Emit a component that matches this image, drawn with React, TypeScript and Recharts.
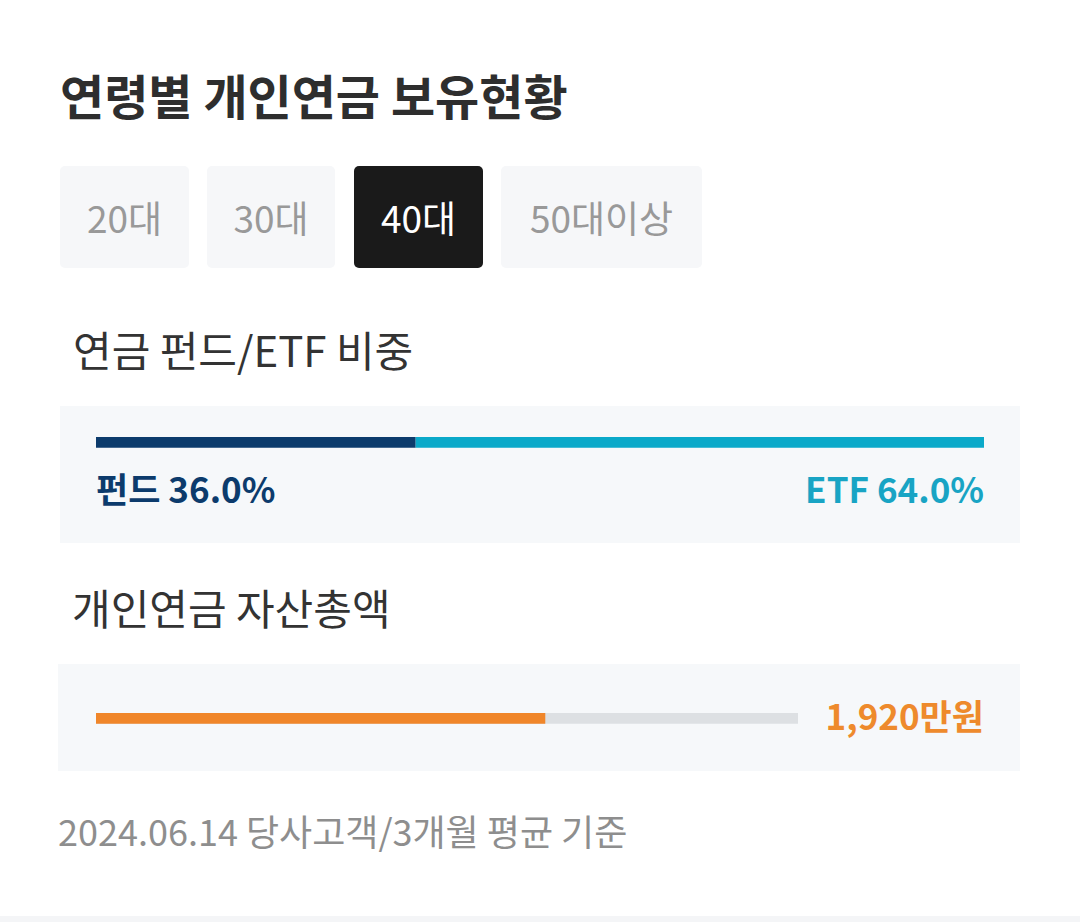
import { Bar, BarChart, XAxis, YAxis } from 'recharts';

const ageTabs = ['20대', '30대', '40대', '50대이상'];
const activeAge = '40대';

const mixNames = ['펀드', 'ETF'];
const mixShares = [36.0, 64.0];

const assetTotal = 1920; // 만원
const assetScaleMax = 3000;

const FONT = '"Noto Sans CJK KR", "Noto Sans", sans-serif';
const FUND_COLOR = '#0c3b6c';
const ETF_COLOR = '#0aa9c9';
const ASSET_COLOR = '#f0862a';

const tabBoxes = [
  { left: 60, width: 129 },
  { left: 207, width: 128 },
  { left: 354, width: 129 },
  { left: 501, width: 201 },
];

const abs = (left: number, top: number, extra: React.CSSProperties = {}): React.CSSProperties => ({
  position: 'absolute',
  left,
  top,
  ...extra,
});

export default function App() {
  const mixData = [{ age: activeAge, fund: mixShares[0], etf: mixShares[1] }];
  const assetData = [{ age: activeAge, asset: assetTotal }];

  return (
    <div
      style={{
        position: 'absolute',
        left: 0,
        top: 0,
        width: 1080,
        height: 922,
        background: '#ffffff',
        fontFamily: FONT,
        overflow: 'hidden',
      }}
    >
      <div style={abs(60, 70, { fontSize: 48, fontWeight: 700, color: '#2e2e2e', lineHeight: 1, whiteSpace: 'nowrap' })}>
        연령별 개인연금 보유현황
      </div>

      {ageTabs.map((tab, i) => {
        const active = tab === activeAge;
        return (
          <div
            key={tab}
            style={abs(tabBoxes[i].left, 166, {
              width: tabBoxes[i].width,
              height: 102,
              borderRadius: 5,
              background: active ? '#1a1a1a' : '#f6f7f9',
              color: active ? '#ffffff' : '#999999',
              display: 'flex',
              alignItems: 'center',
              justifyContent: 'center',
              fontSize: 37,
              lineHeight: 1,
            })}
          >
            {tab}
          </div>
        );
      })}

      <div style={abs(73, 328, { fontSize: 42, color: '#333333', lineHeight: 1, whiteSpace: 'nowrap' })}>
        연금 펀드/ETF 비중
      </div>

      <div style={abs(60, 406, { width: 960, height: 137, background: '#f6f8fa' })} />
      <div style={abs(96, 436)}>
        <BarChart width={888} height={12} data={mixData} layout="vertical" margin={{ top: 0, right: 0, bottom: 0, left: 0 }} barCategoryGap={0}>
          <XAxis type="number" domain={[0, 100]} hide />
          <YAxis type="category" dataKey="age" hide />
          <Bar dataKey="fund" stackId="mix" fill={FUND_COLOR} barSize={12} isAnimationActive={false} />
          <Bar dataKey="etf" stackId="mix" fill={ETF_COLOR} barSize={12} isAnimationActive={false} />
        </BarChart>
      </div>
      <div style={abs(96, 470, { fontSize: 35, fontWeight: 700, color: FUND_COLOR, lineHeight: 1, whiteSpace: 'nowrap' })}>
        {mixNames[0]} {mixShares[0].toFixed(1)}%
      </div>
      <div
        style={abs(0, 470, {
          width: 984,
          textAlign: 'right',
          fontSize: 35,
          fontWeight: 700,
          color: '#18a4c4',
          lineHeight: 1,
          whiteSpace: 'nowrap',
        })}
      >
        {mixNames[1]} {mixShares[1].toFixed(1)}%
      </div>

      <div style={abs(72, 586, { fontSize: 42, color: '#333333', lineHeight: 1, whiteSpace: 'nowrap' })}>
        개인연금 자산총액
      </div>

      <div style={abs(58, 664, { width: 962, height: 107, background: '#f6f8fa' })} />
      <div style={abs(96, 712)}>
        <BarChart width={702} height={12} data={assetData} layout="vertical" margin={{ top: 0, right: 0, bottom: 0, left: 0 }} barCategoryGap={0}>
          <XAxis type="number" domain={[0, assetScaleMax]} hide />
          <YAxis type="category" dataKey="age" hide />
          <Bar
            dataKey="asset"
            fill={ASSET_COLOR}
            barSize={12}
            background={{ fill: '#dde0e3' }}
            isAnimationActive={false}
          />
        </BarChart>
      </div>
      <div
        style={abs(0, 697, {
          width: 984,
          textAlign: 'right',
          fontSize: 35,
          fontWeight: 700,
          color: '#ee8a2c',
          lineHeight: 1,
          whiteSpace: 'nowrap',
        })}
      >
        {assetTotal.toLocaleString('en-US')}만원
      </div>

      <div style={abs(58, 812, { fontSize: 36, color: '#8e8e8e', lineHeight: 1, whiteSpace: 'nowrap' })}>
        2024.06.14 당사고객/3개월 평균 기준
      </div>

      <div style={abs(0, 916, { width: 1080, height: 6, background: '#f4f5f7' })} />
    </div>
  );
}
